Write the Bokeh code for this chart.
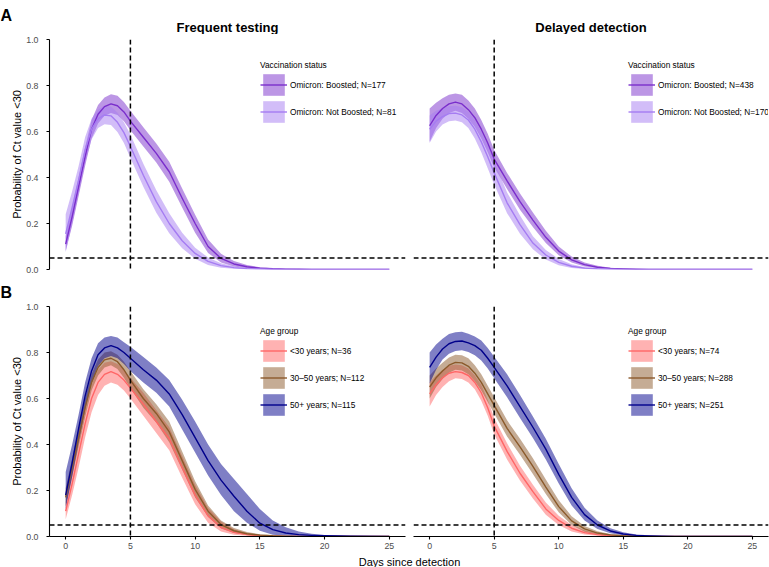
import math
from bokeh.plotting import figure
from bokeh.models import (Range1d, Span, Label, Legend, LegendItem, FixedTicker,
                          NumeralTickFormatter)
from bokeh.layouts import column, row
from bokeh.embed import file_html
from bokeh.resources import INLINE

# ---------------- data ----------------
days = [0, 0.5, 1, 1.5, 2, 2.5, 3, 3.5, 4, 4.5, 5, 6, 7, 8, 9, 10, 11, 12, 13, 14,
        15, 16, 17, 18, 19, 20, 22, 25]

# Frequent testing, vaccination status
ft_boost_mean = [0.11, 0.23, 0.36, 0.49, 0.61, 0.675, 0.708, 0.72, 0.712, 0.685,
                 0.645, 0.575, 0.505, 0.425, 0.31, 0.20, 0.10, 0.048, 0.024, 0.012,
                 0.006, 0.003, 0.0015, 0.001, 0.0005, 0.0003, 0.0001, 0]
ft_boost_lo = [0.08, 0.19, 0.32, 0.45, 0.57, 0.635, 0.668, 0.68, 0.672, 0.645,
               0.605, 0.535, 0.465, 0.382, 0.27, 0.16, 0.072, 0.03, 0.013, 0.005,
               0.002, 0.001, 0, 0, 0, 0, 0, 0]
ft_boost_hi = [0.145, 0.27, 0.40, 0.53, 0.65, 0.715, 0.748, 0.762, 0.755, 0.728,
               0.69, 0.618, 0.548, 0.468, 0.352, 0.238, 0.13, 0.068, 0.037, 0.02,
               0.01, 0.005, 0.003, 0.002, 0.001, 0.0006, 0.0002, 0]
ft_nob_mean = [0.155, 0.27, 0.39, 0.52, 0.61, 0.655, 0.672, 0.668, 0.64, 0.595,
               0.535, 0.41, 0.295, 0.20, 0.125, 0.07, 0.035, 0.017, 0.008, 0.004,
               0.002, 0.001, 0.0005, 0.0003, 0.0002, 0.0001, 0, 0]
ft_nob_lo = [0.075, 0.20, 0.33, 0.465, 0.565, 0.615, 0.632, 0.628, 0.598, 0.55,
             0.485, 0.36, 0.247, 0.158, 0.092, 0.047, 0.02, 0.008, 0.003, 0.001,
             0, 0, 0, 0, 0, 0, 0, 0]
ft_nob_hi = [0.24, 0.34, 0.45, 0.575, 0.655, 0.695, 0.712, 0.708, 0.682, 0.64,
             0.587, 0.46, 0.345, 0.245, 0.16, 0.095, 0.052, 0.027, 0.014, 0.007,
             0.004, 0.002, 0.001, 0.0006, 0.0004, 0.0002, 0.0001, 0]

# Delayed detection, vaccination status
dd_boost_mean = [0.625, 0.67, 0.70, 0.72, 0.728, 0.72, 0.695, 0.66, 0.61, 0.55,
                 0.48, 0.385, 0.295, 0.215, 0.14, 0.08, 0.042, 0.021, 0.01, 0.005,
                 0.0025, 0.0012, 0.0006, 0.0003, 0.0002, 0.0001, 0, 0]
dd_boost_lo = [0.555, 0.615, 0.655, 0.68, 0.69, 0.68, 0.655, 0.62, 0.57, 0.51,
               0.445, 0.35, 0.26, 0.185, 0.115, 0.062, 0.03, 0.013, 0.006, 0.002,
               0.001, 0, 0, 0, 0, 0, 0, 0]
dd_boost_hi = [0.70, 0.725, 0.745, 0.76, 0.765, 0.76, 0.735, 0.70, 0.65, 0.59,
               0.52, 0.42, 0.33, 0.248, 0.168, 0.10, 0.056, 0.03, 0.016, 0.008,
               0.004, 0.002, 0.001, 0.0006, 0.0003, 0.0002, 0.0001, 0]
dd_nob_mean = [0.61, 0.645, 0.665, 0.678, 0.68, 0.672, 0.65, 0.61, 0.555, 0.49,
               0.42, 0.29, 0.195, 0.115, 0.063, 0.031, 0.014, 0.006, 0.003, 0.0013,
               0.0006, 0.0003, 0.0001, 0, 0, 0, 0, 0]
dd_nob_lo = [0.55, 0.60, 0.63, 0.645, 0.648, 0.64, 0.615, 0.57, 0.51, 0.44,
             0.37, 0.245, 0.155, 0.088, 0.043, 0.018, 0.007, 0.002, 0.001, 0,
             0, 0, 0, 0, 0, 0, 0, 0]
dd_nob_hi = [0.67, 0.69, 0.70, 0.71, 0.712, 0.705, 0.685, 0.65, 0.60, 0.54,
             0.47, 0.335, 0.235, 0.145, 0.085, 0.046, 0.023, 0.011, 0.005, 0.0025,
             0.0012, 0.0006, 0.0003, 0.0001, 0, 0, 0, 0]

# Frequent testing, age group
ft_old_mean = [0.18, 0.32, 0.47, 0.61, 0.72, 0.79, 0.82, 0.83, 0.82, 0.80,
               0.775, 0.725, 0.68, 0.62, 0.53, 0.43, 0.33, 0.245, 0.175, 0.11,
               0.058, 0.03, 0.015, 0.008, 0.005, 0.003, 0.001, 0.0005]
ft_old_lo = [0.12, 0.26, 0.41, 0.55, 0.665, 0.74, 0.775, 0.785, 0.775, 0.75,
             0.72, 0.67, 0.625, 0.565, 0.465, 0.365, 0.265, 0.18, 0.11, 0.06,
             0.025, 0.008, 0.003, 0.001, 0, 0, 0, 0]
ft_old_hi = [0.28, 0.40, 0.53, 0.67, 0.775, 0.84, 0.865, 0.872, 0.865, 0.845,
             0.825, 0.78, 0.735, 0.68, 0.595, 0.50, 0.40, 0.315, 0.25, 0.185,
             0.12, 0.07, 0.04, 0.022, 0.012, 0.007, 0.003, 0.001]
ft_mid_mean = [0.17, 0.30, 0.43, 0.56, 0.67, 0.735, 0.768, 0.775, 0.76, 0.725,
               0.68, 0.60, 0.535, 0.455, 0.33, 0.205, 0.11, 0.052, 0.025, 0.012,
               0.006, 0.003, 0.0015, 0.0007, 0.0003, 0.0002, 0, 0]
ft_mid_lo = [0.13, 0.26, 0.39, 0.52, 0.635, 0.70, 0.735, 0.745, 0.728, 0.69,
             0.645, 0.56, 0.495, 0.41, 0.29, 0.17, 0.085, 0.035, 0.015, 0.006,
             0.002, 0.001, 0, 0, 0, 0, 0, 0]
ft_mid_hi = [0.21, 0.34, 0.47, 0.60, 0.705, 0.77, 0.80, 0.805, 0.79, 0.76,
             0.72, 0.64, 0.575, 0.50, 0.37, 0.24, 0.135, 0.07, 0.037, 0.02,
             0.01, 0.005, 0.002, 0.001, 0.0005, 0.0002, 0, 0]
ft_young_mean = [0.11, 0.23, 0.36, 0.49, 0.60, 0.67, 0.705, 0.717, 0.705, 0.68,
                 0.645, 0.575, 0.50, 0.425, 0.30, 0.18, 0.09, 0.04, 0.018, 0.008,
                 0.003, 0.0015, 0.0007, 0.0003, 0.0001, 0, 0, 0]
ft_young_lo = [0.075, 0.18, 0.30, 0.43, 0.54, 0.615, 0.655, 0.67, 0.66, 0.635,
               0.60, 0.525, 0.45, 0.375, 0.255, 0.14, 0.06, 0.022, 0.008, 0.003,
               0.001, 0, 0, 0, 0, 0, 0, 0]
ft_young_hi = [0.15, 0.28, 0.42, 0.55, 0.66, 0.725, 0.755, 0.762, 0.75, 0.725,
               0.69, 0.625, 0.55, 0.475, 0.35, 0.225, 0.125, 0.065, 0.032, 0.015,
               0.007, 0.003, 0.001, 0.0005, 0.0002, 0.0001, 0, 0]

# Delayed detection, age group
dd_old_mean = [0.735, 0.78, 0.815, 0.838, 0.848, 0.85, 0.842, 0.83, 0.81, 0.775,
               0.735, 0.655, 0.565, 0.475, 0.38, 0.27, 0.17, 0.095, 0.05, 0.024,
               0.011, 0.005, 0.0025, 0.001, 0.0005, 0.0003, 0.0001, 0]
dd_old_lo = [0.665, 0.725, 0.77, 0.795, 0.807, 0.81, 0.802, 0.788, 0.765, 0.73,
             0.688, 0.605, 0.515, 0.428, 0.335, 0.23, 0.135, 0.07, 0.033, 0.014,
             0.005, 0.002, 0.001, 0, 0, 0, 0, 0]
dd_old_hi = [0.80, 0.835, 0.86, 0.88, 0.888, 0.89, 0.882, 0.87, 0.852, 0.82,
             0.782, 0.705, 0.615, 0.522, 0.425, 0.315, 0.21, 0.125, 0.07, 0.036,
             0.018, 0.009, 0.005, 0.002, 0.001, 0.0005, 0.0002, 0]
dd_mid_mean = [0.65, 0.69, 0.72, 0.745, 0.757, 0.755, 0.74, 0.71, 0.67, 0.62,
               0.57, 0.47, 0.39, 0.305, 0.215, 0.13, 0.068, 0.033, 0.015, 0.007,
               0.003, 0.001, 0.0005, 0.0002, 0.0001, 0, 0, 0]
dd_mid_lo = [0.60, 0.65, 0.685, 0.712, 0.725, 0.722, 0.705, 0.675, 0.635, 0.585,
             0.535, 0.435, 0.355, 0.272, 0.185, 0.105, 0.05, 0.021, 0.008, 0.003,
             0.001, 0, 0, 0, 0, 0, 0, 0]
dd_mid_hi = [0.70, 0.73, 0.755, 0.778, 0.79, 0.788, 0.775, 0.745, 0.705, 0.655,
             0.605, 0.505, 0.425, 0.34, 0.248, 0.158, 0.088, 0.046, 0.023, 0.011,
             0.005, 0.002, 0.001, 0.0005, 0.0002, 0, 0, 0]
dd_young_mean = [0.62, 0.66, 0.69, 0.71, 0.717, 0.713, 0.70, 0.67, 0.625, 0.56,
                 0.48, 0.37, 0.275, 0.195, 0.12, 0.07, 0.036, 0.017, 0.008, 0.003,
                 0.001, 0.0005, 0.0002, 0.0001, 0, 0, 0, 0]
dd_young_lo = [0.565, 0.615, 0.65, 0.675, 0.688, 0.685, 0.67, 0.64, 0.59, 0.525,
               0.445, 0.335, 0.243, 0.165, 0.095, 0.05, 0.022, 0.009, 0.003, 0.001,
               0, 0, 0, 0, 0, 0, 0, 0]
dd_young_hi = [0.67, 0.70, 0.725, 0.742, 0.748, 0.745, 0.73, 0.70, 0.66, 0.595,
               0.515, 0.405, 0.308, 0.225, 0.148, 0.09, 0.05, 0.027, 0.013, 0.006,
               0.002, 0.001, 0.0005, 0.0002, 0.0001, 0, 0, 0]

vacc_title = "Vaccination status"
age_title = "Age group"
ft_vacc_labels = ["Omicron: Boosted; N=177", "Omicron: Not Boosted; N=81"]
dd_vacc_labels = ["Omicron: Boosted; N=438", "Omicron: Not Boosted; N=170"]
ft_age_labels = ["<30 years; N=36", "30\u201350 years; N=112", "50+ years; N=115"]
dd_age_labels = ["<30 years; N=74", "30\u201350 years; N=288", "50+ years; N=251"]
vacc_colors = ["#7A2ECC", "#A57CF2"]
age_colors = ["#FF6666", "#8B5A2B", "#00008B"]
x_ticks = [0, 5, 10, 15, 20, 25]
y_ticks = [0, 0.2, 0.4, 0.6, 0.8, 1.0]
vline_day = 5
hline_prob = 0.05

# ---------------- layout constants ----------------
FONT = "Liberation Sans"
XR = (-1.25, 26.25)
FH = 230
FW_L, FW_R = 356, 355
LB = 49
LEG_FONT = "8.3px"
TITLE_H = 10
GW, GH = 27, 27
SPACING = -3
TSTAND = 1
TOTAL_W = 769


def make_fig(fw, lb, rb, tb, bb, show_x, show_y):
    p = figure(frame_width=fw, frame_height=FH,
               x_range=Range1d(*XR), y_range=Range1d(0, 1),
               min_border_left=lb, min_border_right=rb,
               min_border_top=tb, min_border_bottom=bb,
               toolbar_location=None, output_backend="svg",
               x_axis_location="below" if show_x else None,
               y_axis_location="left" if show_y else None)
    p.outline_line_color = None
    p.grid.visible = False
    for ax in p.axis:
        ax.axis_line_color = "black"
        ax.axis_line_width = 1.1
        ax.major_tick_line_color = "black"
        ax.major_tick_line_width = 1.1
        ax.major_tick_out = 3
        ax.major_tick_in = 0
        ax.minor_tick_line_color = None
        ax.major_label_text_font = FONT
        ax.major_label_text_font_size = "8.8px"
        ax.major_label_text_color = "#4D4D4D"
    if show_y:
        p.yaxis.ticker = FixedTicker(ticks=y_ticks)
        p.yaxis.formatter = NumeralTickFormatter(format="0.0")
        p.yaxis.major_label_standoff = 8
        p.yaxis.axis_label = "Probability of Ct value <30"
        p.yaxis.axis_label_text_font = FONT
        p.yaxis.axis_label_text_font_size = "11px"
        p.yaxis.axis_label_text_font_style = "normal"
        p.yaxis.axis_label_text_color = "black"
        p.yaxis.axis_label_standoff = 0
    if show_x:
        p.xaxis.ticker = FixedTicker(ticks=x_ticks)
        p.xaxis.major_label_standoff = 3
    return p


def add_series(p, series, labels, colors, title, vx, top_off):
    bands, lines = [], []
    for (lo, hi, mean), col in zip(series, colors):
        bands.append(p.varea(x=days, y1=lo, y2=hi, fill_color=col, fill_alpha=0.5))
    for (lo, hi, mean), col in zip(series, colors):
        lines.append(p.line(x=days, y=mean, line_color=col, line_width=1.4,
                            line_join="round"))
    p.add_layout(Span(location=vline_day, dimension="height", line_color="black",
                      line_dash="5 3", line_width=1.5))
    p.add_layout(Span(location=hline_prob, dimension="width", line_color="black",
                      line_dash="5 3", line_width=1.5))
    items = [LegendItem(label=lab, renderers=[b, l])
             for lab, b, l in zip(labels, bands, lines)]
    n = len(items)
    leg_h = TITLE_H + TSTAND + n * GH + (n - 1) * SPACING
    vy = FH - top_off - leg_h
    leg = Legend(items=items, location=(vx, vy), title=title,
                 title_text_font=FONT, title_text_font_size=LEG_FONT,
                 title_text_font_style="normal", title_text_color="black",
                 title_standoff=TSTAND,
                 label_text_font=FONT, label_text_font_size=LEG_FONT,
                 label_text_color="black", label_standoff=3,
                 label_height=GH,
                 glyph_width=GW, glyph_height=GH, spacing=SPACING,
                 padding=0, margin=0, border_line_color=None,
                 background_fill_alpha=0)
    p.add_layout(leg)


def strip(h):
    s = figure(frame_width=TOTAL_W, frame_height=h, x_range=Range1d(0, TOTAL_W),
               y_range=Range1d(0, h), min_border=0, toolbar_location=None,
               output_backend="svg", x_axis_location=None, y_axis_location=None)
    s.outline_line_color = None
    s.grid.visible = False
    return s


# header strip: tag A and the two column titles
HDR = 34
hdr = strip(HDR)
hdr.add_layout(Label(x=0, y=19, text="A", text_align="left",
                     text_baseline="alphabetic", text_font=FONT,
                     text_font_size="16px", text_font_style="bold",
                     text_color="black"))
hdr.add_layout(Label(x=LB + FW_L / 2, y=HDR - 27, text="Frequent testing",
                     text_align="center", text_baseline="middle", text_font=FONT,
                     text_font_size="13px", text_font_style="bold",
                     text_color="black"))
hdr.add_layout(Label(x=LB + FW_L + 4 + 4 + FW_R / 2, y=HDR - 27,
                     text="Delayed detection", text_align="center",
                     text_baseline="middle", text_font=FONT,
                     text_font_size="13px", text_font_style="bold",
                     text_color="black"))

# top row
p1 = make_fig(FW_L, LB, 4, 5, 6, False, True)
add_series(p1, [(ft_boost_lo, ft_boost_hi, ft_boost_mean),
                (ft_nob_lo, ft_nob_hi, ft_nob_mean)],
           ft_vacc_labels, vacc_colors, vacc_title, 211, 24)
p2 = make_fig(FW_R, 4, 1, 5, 6, False, False)
add_series(p2, [(dd_boost_lo, dd_boost_hi, dd_boost_mean),
                (dd_nob_lo, dd_nob_hi, dd_nob_mean)],
           dd_vacc_labels, vacc_colors, vacc_title, 215, 24)

# middle strip: tag B
MID = 25
mid = strip(MID)
mid.add_layout(Label(x=0, y=8, text="B", text_align="left",
                     text_baseline="alphabetic", text_font=FONT,
                     text_font_size="16px", text_font_style="bold",
                     text_color="black"))

# bottom row
p3 = make_fig(FW_L, LB, 4, 6, 18, True, True)
add_series(p3, [(ft_young_lo, ft_young_hi, ft_young_mean),
                (ft_mid_lo, ft_mid_hi, ft_mid_mean),
                (ft_old_lo, ft_old_hi, ft_old_mean)],
           ft_age_labels, age_colors, age_title, 211, 26)
p4 = make_fig(FW_R, 4, 1, 6, 18, True, False)
add_series(p4, [(dd_young_lo, dd_young_hi, dd_young_mean),
                (dd_mid_lo, dd_mid_hi, dd_mid_mean),
                (dd_old_lo, dd_old_hi, dd_old_mean)],
           dd_age_labels, age_colors, age_title, 215, 26)

# bottom strip: shared x-axis title
BOT = 13
bot = strip(BOT)
bot.add_layout(Label(x=409, y=6, text="Days since detection", text_align="center",
                     text_baseline="middle", text_font=FONT, text_font_size="11px",
                     text_color="black"))

layout = column(hdr, row(p1, p2), mid, row(p3, p4), bot)
open("out.html", "w").write(file_html(layout, INLINE))
